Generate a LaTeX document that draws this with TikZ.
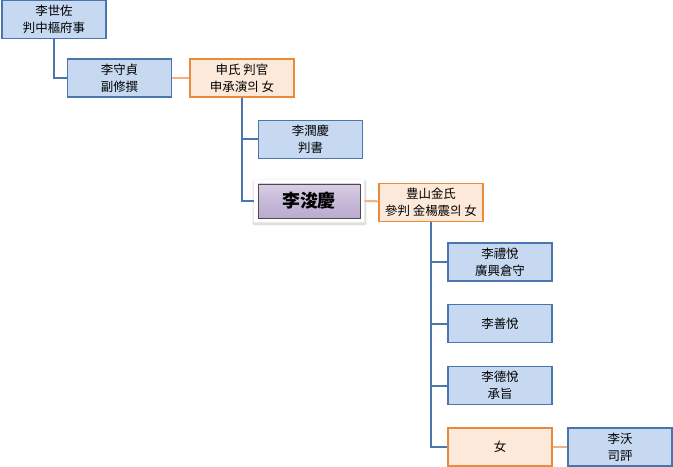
\documentclass[tikz,border=0pt]{standalone}
\usepackage{fontspec}
\usepackage{xcolor}
\usepackage{tikz}
\usetikzlibrary{backgrounds}
\newfontfamily\cjk{Noto Sans CJK KR}

\definecolor{boxblue}{HTML}{C6D9F1}
\definecolor{edgeblue}{HTML}{4A76AE}
\definecolor{boxorange}{HTML}{FDE9D9}
\definecolor{edgeorange}{HTML}{E98B3A}
\definecolor{lineorange}{HTML}{F4B183}
\definecolor{mainlight}{HTML}{D9CEE5}
\definecolor{mainmid}{HTML}{C7B9D8}
\definecolor{maindark}{HTML}{BBAACF}

\begin{document}
\begin{tikzpicture}[x=1bp, y=-1bp,
    person/.style={draw=edgeblue, fill=boxblue, line width=1.1pt, align=center,
        minimum width=104bp, minimum height=38bp, inner sep=1bp,
        font=\cjk\fontsize{12.5}{17}\selectfont},
    spouse/.style={person, draw=edgeorange, fill=boxorange},
    mainbox/.style={draw=gray!60!black, line width=0.8pt, top color=mainlight, bottom color=maindark,
        middle color=mainmid, minimum width=102bp, minimum height=34bp,
        font=\cjk\bfseries\fontsize{18}{20}\selectfont},
    kin/.style={edgeblue, line width=2bp},
    wed/.style={lineorange, line width=2bp}]
        % canvas
        \useasboundingbox (0,0) rectangle (673,467);

        % boxes
        \node[person] (sejwa) at (54,19.5) {李世佐\\判中樞府事};
        \node[person] (sujeong) at (119.5,78) {李守貞\\副修撰};
        \node[spouse] (sinssi) at (242,78) {申氏 判官\\申承演의 女};
        \node[person] (yungyeong) at (310.5,139.5) {李潤慶\\判書};
        \node[mainbox] (jungyeong) at (309,201) {李浚慶};
        \node[spouse] (kimssi) at (431,202.5) {豊山金氏\\參判 金楊震의 女};
        \node[person] (yeyeol) at (500,262) {李禮悅\\廣興倉守};
        \node[person] (seonyeol) at (500,323.5) {李善悅};
        \node[person] (deokyeol) at (500,385.5) {李德悅\\承旨};
        \node[spouse] (ttal) at (500,447) {女};
        \node[person] (ok) at (620,447) {李沃\\司評};

        % white frame with soft shadow round the main box
        \begin{scope}[on background layer]
            \fill[black!12, rounded corners=2bp] ([shift={(-5,-4)}]jungyeong.north west) rectangle ([shift={(6,7)}]jungyeong.south east);
            \fill[white, rounded corners=1bp] ([shift={(-4,-4)}]jungyeong.north west) rectangle ([shift={(4,4)}]jungyeong.south east);
        \end{scope}

        % lines
        \draw[kin] (sejwa.south) |- (sujeong.west);
        \draw[kin] (sinssi.south) |- (yungyeong.west);
        \draw[kin] (sinssi.south) |- ([xshift=-4bp]jungyeong.west);
        \foreach \c in {yeyeol, seonyeol, deokyeol, ttal} {
            \draw[kin] (kimssi.south) |- (\c.west);
        }
        \draw[wed] (sujeong) -- (sinssi);
        \draw[wed] ([xshift=4bp]jungyeong.east) -- (kimssi);
        \draw[wed] (ttal) -- (ok);
\end{tikzpicture}
\end{document}
